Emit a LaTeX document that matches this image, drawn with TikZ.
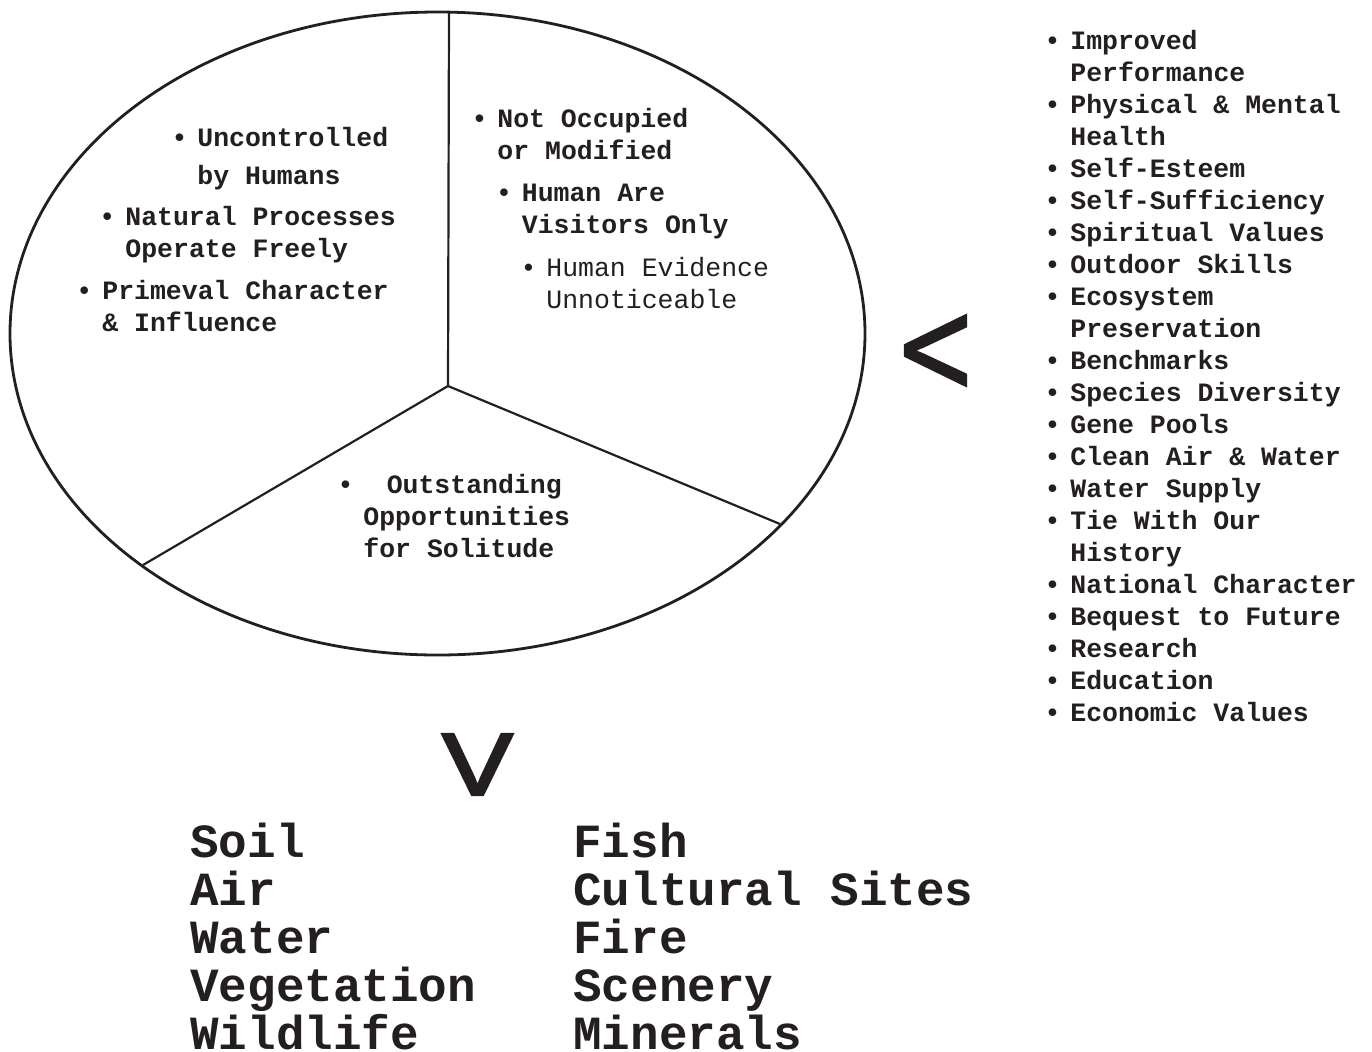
\documentclass[tikz,border=0pt]{standalone}
\usepackage{fontspec}
\setmonofont{Liberation Mono}
\newfontfamily\signfont[FakeBold=3]{Liberation Sans}
\definecolor{ink}{RGB}{35,31,32}
\newcommand{\bul}{\llap{\textbullet\hspace{5pt}}}
\tikzset{
	item/.style={anchor=base west,inner sep=0pt,align=left,text=ink,font=\ttfamily\bfseries\fontsize{13.25}{16}\selectfont},
	plainitem/.style={item,font=\ttfamily\mdseries\fontsize{13.25}{16}\selectfont},
	resource/.style={anchor=base west,inner sep=0pt,align=left,text=ink,font=\ttfamily\bfseries\fontsize{23.8}{24}\selectfont},
	sign/.style={inner sep=0pt,text=ink,font=\signfont\fontsize{44}{44}\selectfont}
}
\begin{document}
\begin{tikzpicture}[x=0.5pt,y=-0.5pt]
	\useasboundingbox (0,0) rectangle (1372,1051);
	% the wilderness circle
	\coordinate (centre) at (437.5,333.5);
	\coordinate (hub) at (448,386);
	\coordinate (rimtop) at (449,12);
	\coordinate (rimright) at (780,524);
	\coordinate (rimleft) at (143,565);
	\draw[ink,line width=1.4pt] (centre) ellipse (427.5 and 321.5);
	\draw[ink,line width=1.1pt] (hub)--(rimtop) (hub)--(rimright) (hub)--(rimleft);
	% left sector (nodes sit on the baseline of their last line)
	\node[item,font=\ttfamily\bfseries\fontsize{13.25}{19}\selectfont] (uncontrolled) at (197,184) {\bul Uncontrolled\\by Humans};
	\node[item] (natural) at (125,257.5) {\bul Natural Processes\\Operate Freely};
	\node[item] (primeval) at (102,331.5) {\bul Primeval Character\\\& Influence};
	% right sector
	\node[item] (occupied) at (497,159.5) {\bul Not Occupied\\or Modified};
	\node[item] (visitors) at (521.5,233.5) {\bul Human Are\\Visitors Only};
	\node[plainitem] (evidence) at (546,308.5) {\bul Human Evidence\\Unnoticeable};
	% bottom sector
	\node[item] (solitude) at (363,557) {\bul\hspace{11.7pt}Outstanding\\Opportunities\\for Solitude};
	% values list
	\node[item] (values) at (1070,721.5) {\bul Improved\\Performance\\\bul Physical \& Mental\\Health\\\bul Self-Esteem\\\bul Self-Sufficiency\\\bul Spiritual Values\\\bul Outdoor Skills\\\bul Ecosystem\\Preservation\\\bul Benchmarks\\\bul Species Diversity\\\bul Gene Pools\\\bul Clean Air \& Water\\\bul Water Supply\\\bul Tie With Our\\History\\\bul National Character\\\bul Bequest to Future\\\bul Research\\\bul Education\\\bul Economic Values};
	\node[sign,rotate=-90,xscale=1.2] (lesssign) at (935.5,350.5) {V};
	\node[sign,xscale=1.2] (downsign) at (477.5,764.5) {V};
	% resources
	\node[resource] (resleft) at (190,1049) {Soil\\Air\\Water\\Vegetation\\Wildlife};
	\node[resource] (resright) at (573,1049) {Fish\\Cultural Sites\\Fire\\Scenery\\Minerals};
\end{tikzpicture}
\end{document}
